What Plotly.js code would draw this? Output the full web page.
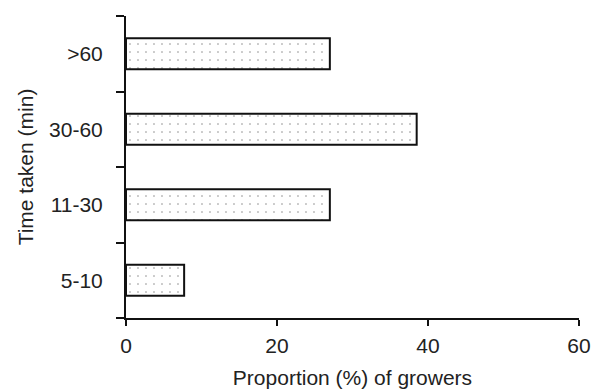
<!DOCTYPE html>
<html>
<head>
<meta charset="utf-8">
<script src="https://cdn.plot.ly/plotly-3.0.1.min.js"></script>
<style>html,body{margin:0;padding:0;background:#fff;}#chart{width:592px;height:391px;}</style>
</head>
<body>
<div id="chart"></div>
<script>
const categories = ["5-10", "11-30", "30-60", ">60"];
const proportions = [7.7, 27.0, 38.5, 27.0];
const xTicks = [0, 20, 40, 60];
const xTitle = "Proportion (%) of growers";
const yTitle = "Time taken (min)";

const font = {family: "Liberation Sans, Arial, sans-serif", size: 21, color: "#222"};

const trace = {
  type: "bar",
  orientation: "h",
  x: proportions,
  y: categories,
  width: 0.41,
  marker: {
    color: "#ffffff",
    line: {color: "#111", width: 2},
    pattern: {shape: ".", fgcolor: "#888", bgcolor: "#ffffff", size: 8, solidity: 0.03}
  },
  hoverinfo: "none"
};

const layout = {
  width: 592, height: 391,
  margin: {l: 126, r: 13, t: 16, b: 73},
  paper_bgcolor: "#fff", plot_bgcolor: "#fff",
  font: font,
  showlegend: false,
  xaxis: {
    range: [0, 60],
    tickvals: xTicks,
    ticktext: xTicks.map(String),
    showgrid: false, zeroline: false,
    showline: true, linecolor: "#111", linewidth: 2,
    ticks: "outside", ticklen: 6, tickwidth: 2, tickcolor: "#111",
    ticklabelstandoff: 2,
    tickfont: font,
    title: {text: xTitle, font: font, standoff: 14}
  },
  yaxis: {
    type: "category",
    categoryorder: "array", categoryarray: categories,
    range: [-0.5, 3.5],
    tickson: "boundaries",
    showgrid: false, zeroline: false,
    showline: true, linecolor: "#111", linewidth: 2,
    ticks: "outside", ticklen: 8, tickwidth: 2, tickcolor: "#111",
    ticklabelstandoff: 17,
    tickfont: font,
    title: {text: yTitle, font: font, standoff: 10}
  }
};

Plotly.newPlot("chart", [trace], layout, {displayModeBar: false, staticPlot: true});
</script>
</body>
</html>
